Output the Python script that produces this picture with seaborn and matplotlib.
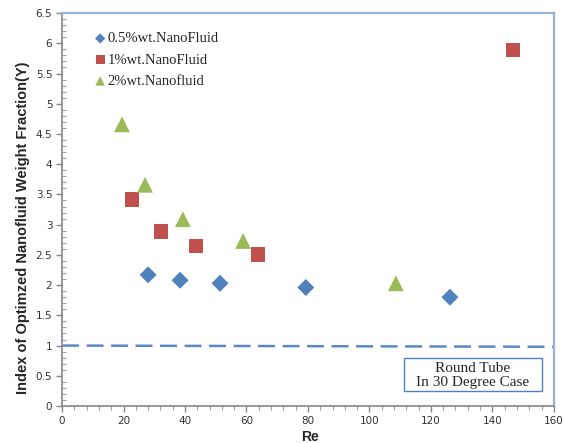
import numpy as np
import pandas as pd
import matplotlib
matplotlib.use("Agg")
import matplotlib.pyplot as plt
import seaborn as sns
from matplotlib.ticker import MultipleLocator
from matplotlib.patches import Rectangle

# values
re_05 = [28.0, 38.4, 51.4, 79.3, 126.2]
y_05 = [2.17, 2.08, 2.03, 1.96, 1.80]
re_1 = [22.8, 32.2, 43.6, 63.7, 146.7]
y_1 = [3.42, 2.89, 2.65, 2.51, 5.89]
re_2 = [19.5, 27.0, 39.3, 58.9, 108.6]
y_2 = [4.66, 3.66, 3.09, 2.73, 2.03]
series_names = ["0.5%wt.NanoFluid", "1%wt.NanoFluid", "2%wt.Nanofluid"]
ref_x = [0, 160]
ref_y = [1.0, 0.98]

data = pd.DataFrame({
    "Re": re_05 + re_1 + re_2,
    "Y": y_05 + y_1 + y_2,
    "series": [series_names[0]] * len(re_05) + [series_names[1]] * len(re_1) + [series_names[2]] * len(re_2),
})

sns.set_style("white")
colors = {series_names[0]: "#4F81BD", series_names[1]: "#C0504D", series_names[2]: "#9BBB59"}
markers = {series_names[0]: "D", series_names[1]: "s", series_names[2]: "^"}
sizes = {series_names[0]: 75, series_names[1]: 110, series_names[2]: 130}

fig = plt.figure(figsize=(5.64, 4.43), dpi=100)
ax = fig.add_axes([0.110, 0.0835, 0.872, 0.887])

for name in series_names:
    sub = data[data["series"] == name]
    sns.scatterplot(data=sub, x="Re", y="Y", ax=ax, color=colors[name], marker=markers[name],
                    s=sizes[name], edgecolor="none", label=name, zorder=3)

# reference line near Y = 1
ax.plot(ref_x, ref_y, color="#5A8AC6", lw=1.8, dashes=(6.8, 3.0), zorder=2)

ax.set_xlim(0, 160)
ax.set_ylim(0, 6.5)
ax.xaxis.set_major_locator(MultipleLocator(20))
ax.xaxis.set_minor_locator(MultipleLocator(4))
ax.yaxis.set_major_locator(MultipleLocator(0.5))
ax.yaxis.set_minor_locator(MultipleLocator(0.1))
ax.set_xticks(np.arange(0, 161, 20))
ax.set_xticklabels([str(v) for v in range(0, 161, 20)])
ax.set_yticks(np.arange(0, 6.51, 0.5))
ax.set_yticklabels(["0", "0.5", "1", "1.5", "2", "2.5", "3", "3.5", "4", "4.5", "5", "5.5", "6", "6.5"])
ax.tick_params(axis="both", which="major", direction="out", length=4, width=1, color="#868686",
               labelsize=7.5, labelcolor="#333333", left=True, bottom=True, pad=3)
ax.tick_params(axis="y", which="minor", direction="in", length=3, width=0.8, color="#A0A0A0", left=True)
ax.tick_params(axis="x", which="minor", direction="out", length=3, width=0.8, color="#A0A0A0", bottom=True)

for side in ["left", "bottom"]:
    ax.spines[side].set_color("#868686")
    ax.spines[side].set_linewidth(1.2)
for side in ["top", "right"]:
    ax.spines[side].set_color("#95B3D7")
    ax.spines[side].set_linewidth(1.6)

ax.set_xlabel("Re", fontsize=10, fontweight="bold", family="Liberation Sans")
ax.set_ylabel("Index of Optimzed Nanofluid Weight Fraction(Y)", fontsize=10.5, fontweight="bold",
              family="Liberation Sans")
ax.xaxis.set_label_coords(0.504, -0.061)
ax.yaxis.set_label_coords(-0.065, 0.453)

leg = ax.legend(loc="upper left", bbox_to_anchor=(0.036, 0.985), frameon=False,
                prop={"family": "Liberation Serif", "size": 10.5}, handletextpad=0.0,
                labelspacing=0.55, markerscale=0.6, handlelength=1.0)

ax.add_patch(Rectangle((0.695, 0.038), 0.281, 0.084, transform=ax.transAxes,
                       facecolor="white", edgecolor="#4F81BD", lw=1.0, zorder=4))
ax.text(0.8355, 0.078, "Round Tube\nIn 30 Degree Case", ha="center", va="center",
        transform=ax.transAxes, family="Liberation Serif", fontsize=11, linespacing=1.05, zorder=5)

fig.savefig("out.png", dpi=100)
